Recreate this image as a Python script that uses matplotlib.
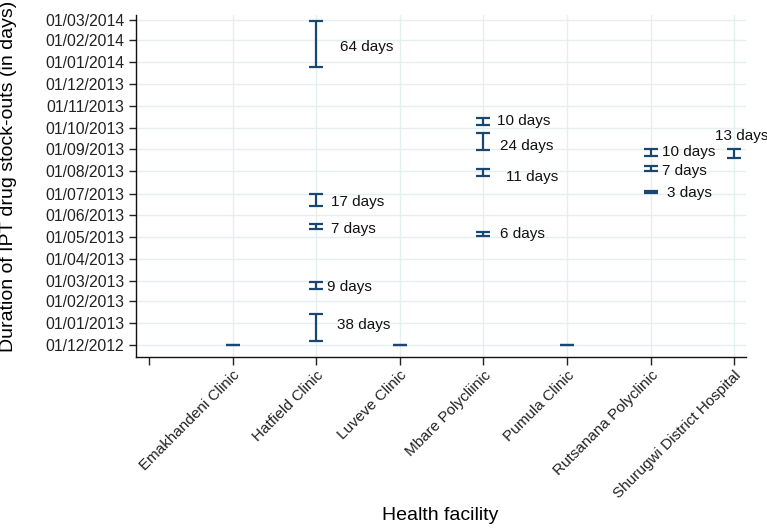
import datetime as dt
import matplotlib
matplotlib.use('Agg')
import matplotlib.pyplot as plt
import matplotlib.dates as mdates

# facilities on the x axis (position 0 is left empty, as in the original)
facilities = ['Emakhandeni Clinic', 'Hatfield Clinic', 'Luveve Clinic', 'Mbare Polycliinic',
              'Pumula Clinic', 'Rutsanana Polyclinic', 'Shurugwi District Hospital']

# one entry per stock-out episode
bar_fac = [1, 2, 2, 2, 2, 2, 3, 4, 4, 4, 4, 5, 6, 6, 6, 7]
bar_start = ['2012-12-01', '2013-12-25', '2013-06-13', '2013-05-12', '2013-02-18', '2012-12-06',
             '2012-12-01', '2013-10-05', '2013-08-31', '2013-07-25', '2013-05-02',
             '2012-12-01', '2013-08-23', '2013-08-02', '2013-07-02', '2013-08-20']
bar_days = [0, 64, 17, 7, 9, 38, 0, 10, 24, 11, 6, 0, 10, 7, 3, 13]

# label nudges in pixels (text placement only)
lab_dx = [0, 24, 15, 15, 11, 21, 0, 14, 17, 23, 17, 0, 11, 11, 16, -19]
lab_dy = [0, -3, -2, -2, -2, 3, 0, 0, -5, -4, 0, 0, 0, -3, -1, 17]

plt.rcParams['font.family'] = ['Liberation Sans', 'DejaVu Sans']
navy = '#1a476f'
grid_c = '#e6eff0'

fig = plt.figure(figsize=(7.67, 5.30), dpi=100)
ax = fig.add_axes([0.1773, 0.3264, 0.7953, 0.6453])

start = [mdates.date2num(dt.date.fromisoformat(s)) for s in bar_start]
end = [s + d for s, d in zip(start, bar_days)]
mid = [(s + e) / 2 for s, e in zip(start, end)]
half = [(e - s) / 2 for s, e in zip(start, end)]

ax.errorbar(bar_fac, mid, yerr=half, fmt='none', ecolor=navy, elinewidth=1.6,
            capsize=5, capthick=1.6, zorder=3)

for x, m, d, dx, dy in zip(bar_fac, mid, bar_days, lab_dx, lab_dy):
    if d == 0:
        continue
    ax.annotate(f'{d} days', (x, m), xytext=(dx, dy), textcoords='offset pixels',
                ha='left', va='center', fontsize=11, color='#111111')

base = mdates.date2num(dt.date(2012, 12, 1))
ax.set_ylim(base - 16.8, base + 462)
ax.set_xlim(-0.155, 7.14)

ax.yaxis.set_major_locator(mdates.MonthLocator())
ax.yaxis.set_major_formatter(mdates.DateFormatter('%d/%m/%Y'))
ax.set_xticks(range(8))
ax.set_xticklabels([''] + facilities, rotation=45, ha='right', rotation_mode='anchor')

ax.tick_params(axis='both', labelsize=11, colors='#222222', length=5, width=1)
ax.tick_params(axis='y', labelsize=11.3)
ax.tick_params(axis='x', length=6, pad=2)

ax.yaxis.grid(True, color=grid_c, linewidth=1)
for i in range(1, 8):
    ax.axvline(i, color=grid_c, linewidth=1, zorder=0)
ax.set_axisbelow(True)

for s in ['top', 'right']:
    ax.spines[s].set_visible(False)
for s in ['left', 'bottom']:
    ax.spines[s].set_color('#111111')
    ax.spines[s].set_linewidth(1)

ax.set_ylabel('Duration of IPT drug stock-outs (in days)', fontsize=14)
ax.yaxis.set_label_coords(-0.195, 0.529)
ax.set_xlabel('Health facility', fontsize=14)
ax.xaxis.set_label_coords(0.498, -0.44)

fig.savefig('out.png', dpi=100)
